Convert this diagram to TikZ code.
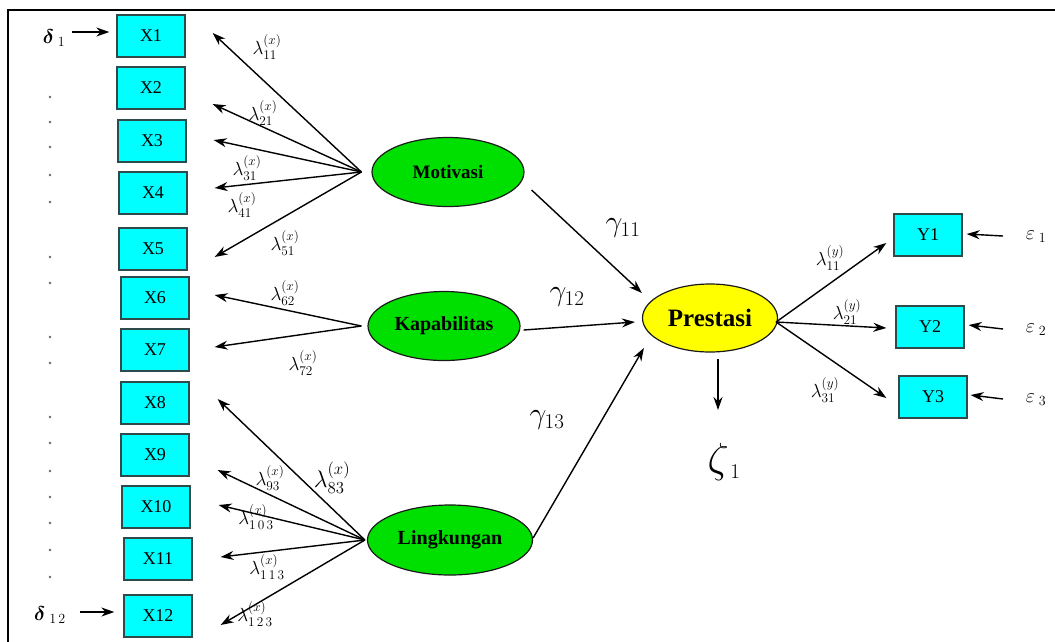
\RequirePackage{fix-cm}
\documentclass[tikz,border=0pt]{standalone}
\usepackage{fontspec}
\setmainfont{Liberation Serif}
\usepackage{amsmath}
\usetikzlibrary{positioning, arrows.meta, shapes.geometric}
\definecolor{indCyan}{HTML}{00FFFF}
\definecolor{indBorder}{HTML}{2E4A4A}
\definecolor{latGreen}{HTML}{00E000}
\definecolor{endoYellow}{HTML}{FFFF00}
\definecolor{latBorder}{HTML}{1A1A1A}

\begin{document}
\begin{tikzpicture}[
    x=1pt, y=-1pt,
    ->,>={Stealth[length=13pt,width=9pt]},
    line width=1.4pt,
    ind/.style={draw=indBorder, fill=indCyan, line width=1.3pt, minimum width=68pt, minimum height=42pt, inner sep=0pt, font=\fontsize{18}{18}\selectfont},
    lat/.style={ellipse, draw=latBorder, fill=latGreen, line width=1.2pt, minimum width=152pt, minimum height=69pt, inner sep=0pt, font=\bfseries\fontsize{19}{19}\selectfont},
    load/.style={font=\fontsize{19}{19}\selectfont},
    gam/.style={font=\fontsize{30}{30}\selectfont},
    err/.style={font=\fontsize{20}{20}\selectfont}
]
    \useasboundingbox (0,0) rectangle (1055,641);
    \draw[-, line width=2.5pt] (8,650) -- (8,10) -- (1060,10);

    % indicators
    \node[ind] (X1) at (151,36) {X1};
    \node[ind] (X2) at (151,88) {X2};
    \node[ind] (X3) at (152,141) {X3};
    \node[ind] (X4) at (153,193) {X4};
    \node[ind] (X5) at (153,249) {X5};
    \node[ind] (X6) at (155,298) {X6};
    \node[ind] (X7) at (155,350) {X7};
    \node[ind] (X8) at (155,403) {X8};
    \node[ind] (X9) at (155,455) {X9};
    \node[ind] (X10) at (156,507) {X10};
    \node[ind] (X11) at (158,559) {X11};
    \node[ind] (X12) at (158,616) {X12};
    \node[ind] (Y1) at (928,235) {Y1};
    \node[ind] (Y2) at (930,327) {Y2};
    \node[ind] (Y3) at (933,397) {Y3};

    % latent variables
    \node[lat] (mot) at (448,172) {Motivasi};
    \node[lat, font=\bfseries\fontsize{20}{20}\selectfont] (kap) at (444,326) {Kapabilitas};
    \node[lat, minimum width=165pt, minimum height=70pt, font=\bfseries\fontsize{20}{20}\selectfont] (lin) at (450,540) {Lingkungan};
    \node[lat, fill=endoYellow, minimum width=135pt, minimum height=68pt, font=\bfseries\fontsize{25}{25}\selectfont] (pre) at (710,318) {Prestasi};

    \coordinate (mfan) at ([xshift=-10pt]mot.west);
    \coordinate (kfan) at ([xshift=-6pt]kap.west);
    \coordinate (lfan) at ([xshift=-2pt]lin.west);

    % loadings
    \foreach \n/\dy in {1/-3, 2/16, 3/-1, 4/-5, 5/8}
        \draw (mfan) -- ([shift={(27,\dy)}]X\n.east);
    \foreach \n/\dy in {6/-3, 7/-3}
        \draw (kfan) -- ([shift={(25,\dy)}]X\n.east);
    \foreach \n/\dy in {8/-4, 9/15, 10/-2, 11/-2, 12/9}
        \draw (lfan) -- ([shift={(28,\dy)}]X\n.east);

    \node[load] (l11) at (267,47) {$\lambda^{(x)}_{11}$};
    \node[load] (l21) at (263,113) {$\lambda^{(x)}_{21}$};
    \node[load] (l31) at (247,168) {$\lambda^{(x)}_{31}$};
    \node[load] (l41) at (242,205) {$\lambda^{(x)}_{41}$};
    \node[load] (l51) at (285,243) {$\lambda^{(x)}_{51}$};
    \node[load] (l62) at (285,293) {$\lambda^{(x)}_{62}$};
    \node[load] (l72) at (303,363) {$\lambda^{(x)}_{72}$};
    \node[load, font=\fontsize{24}{24}\selectfont] (l83) at (332,478) {$\lambda^{(x)}_{83}$};
    \node[load] (l93) at (270,478) {$\lambda^{(x)}_{93}$};
    \node[load] (l103) at (256,517) {$\lambda^{(x)}_{1\,0\,3}$};
    \node[load] (l113) at (267,567) {$\lambda^{(x)}_{1\,1\,3}$};
    \node[load] (l123) at (255,614) {$\lambda^{(x)}_{1\,2\,3}$};

    % structural paths
    \draw ([shift={(7,18)}]mot.east) -- ([shift={(0,-25)}]pre.west);
    \draw ([shift={(3,4)}]kap.east) -- ([shift={(-7,4)}]pre.west);
    \draw ([shift={(0,-2)}]lin.east) -- ([shift={(2,30)}]pre.west);
    \node[gam] (g11) at (623,228) {$\gamma_{11}$};
    \node[gam] (g12) at (567,297) {$\gamma_{12}$};
    \node[gam] (g13) at (547,420) {$\gamma_{13}$};

    % endogenous part
    \coordinate (zt) at (718,410);
    \draw ([shift={(8,6)}]pre.south) -- (zt);
    \node[font=\fontsize{42}{42}\selectfont] (zeta) at (724,462) {$\zeta_{\,\scriptscriptstyle 1}$};
    \draw ([shift={(-2,4)}]pre.east) -- ([shift={(-7,8)}]Y1.west);
    \draw ([shift={(-2,4)}]pre.east) -- ([shift={(-9,1)}]Y2.west);
    \draw ([shift={(-2,4)}]pre.east) -- ([shift={(-12,1)}]Y3.west);
    \node[load] (ly11) at (830,258) {$\lambda^{(y)}_{11}$};
    \node[load] (ly21) at (847,312) {$\lambda^{(y)}_{21}$};
    \node[load] (ly31) at (825,390) {$\lambda^{(y)}_{31}$};

    % errors
    \node[err] (e1) at (1036,237) {$\varepsilon_{\;1}$};
    \node[err] (e2) at (1036,330) {$\varepsilon_{\;2}$};
    \node[err] (e3) at (1036,400) {$\varepsilon_{\;3}$};
    \coordinate (e1t) at (1003,236);
    \coordinate (e2t) at (1003,329);
    \coordinate (e3t) at (1003,399);
    \draw (e1t) -- ([xshift=4pt,yshift=1pt]Y1.east);
    \draw (e2t) -- ([xshift=4pt,yshift=2pt]Y2.east);
    \draw (e3t) -- ([xshift=3pt,yshift=2pt]Y3.east);

    \node[err] (d1) at (54,38) {$\boldsymbol{\delta}_{\;1}$};
    \node[err] (d12) at (50,615) {$\boldsymbol{\delta}_{\;1\,2}$};
    \coordinate (d1t) at (72,32);
    \coordinate (d12t) at (80,612);
    \draw (d1t) -- ([shift={(-7,-4)}]X1.west);
    \draw (d12t) -- ([shift={(-9,-4)}]X12.west);

    % dots between the errors
    \foreach \y in {97,122,147,175,202,257,283,337,363,417,443,471,497,523,550,577}
        \fill[-, black!60] (50,\y) circle (1.3pt);
\end{tikzpicture}
\end{document}
